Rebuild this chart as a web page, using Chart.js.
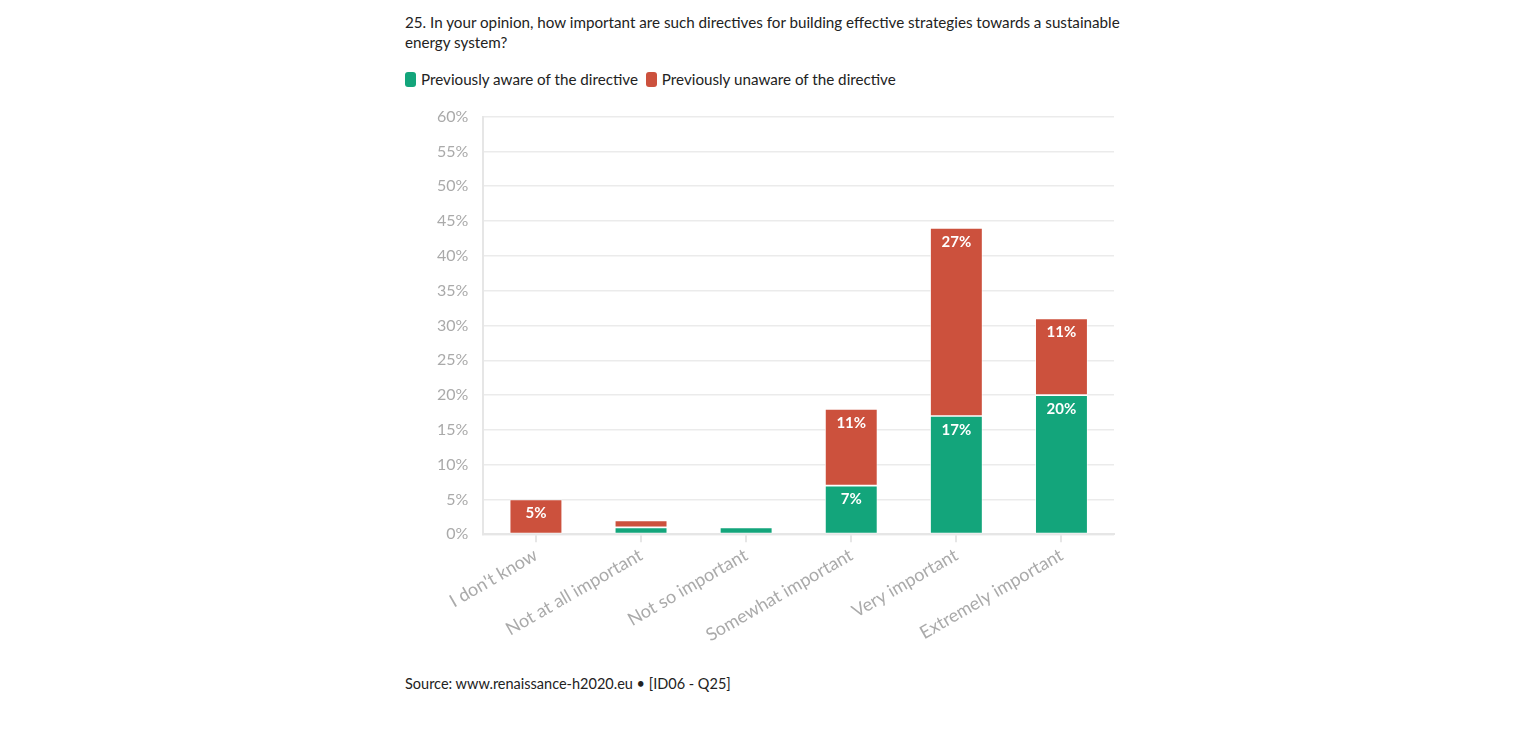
<!DOCTYPE html>
<html>
<head>
<meta charset="utf-8">
<script src="https://cdn.jsdelivr.net/npm/chart.js@4/dist/chart.umd.min.js"></script>
<style>
  body { margin: 0; background: #fff; font-family: Lato, "Open Sans", sans-serif; }
  #page { position: relative; width: 1536px; height: 735px; }
  .title { position: absolute; left: 405px; top: 12px; width: 725px; font-size: 15.2px; line-height: 20px; color: #222; }
  .legend { position: absolute; left: 405px; top: 70px; font-size: 15.2px; color: #222; }
  .legend span.item { margin-right: 4px; }
  .legend i { display: inline-block; width: 11px; height: 15px; border-radius: 3px; vertical-align: -2px; margin-right: 5px; }
  .chart-box { position: absolute; left: 405px; top: 92px; width: 720px; height: 556px; }
  .source { position: absolute; left: 405px; top: 675px; font-size: 14.5px; color: #222; }
</style>
</head>
<body>
<div id="page">
  <div class="title">25. In your opinion, how important are such directives for building effective strategies towards a sustainable energy system?</div>
  <div class="legend">
    <span class="item"><i style="background:#13a57b"></i>Previously aware of the directive</span>
    <span class="item"><i style="background:#cc513d"></i>Previously unaware of the directive</span>
  </div>
  <div class="chart-box"><canvas id="chart"></canvas></div>
  <div class="source">Source: www.renaissance-h2020.eu • [ID06 - Q25]</div>
</div>
<script>
const categories = ['I don\'t know', 'Not at all important', 'Not so important', 'Somewhat important', 'Very important', 'Extremely important'];
const awareValues = [0, 1, 1, 7, 17, 20];
const unawareValues = [5, 1, 0, 11, 27, 11];
const yTicks = [0, 5, 10, 15, 20, 25, 30, 35, 40, 45, 50, 55, 60];

// draw white labels inside the top of each segment (only for bigger ones)
const segmentLabels = {
    id: 'segmentLabels',
    afterDatasetsDraw(chart) {
        const ctx = chart.ctx;
        ctx.save();
        ctx.font = 'bold 15px Lato, "Open Sans", sans-serif';
        ctx.fillStyle = '#fff';
        ctx.textAlign = 'center';
        ctx.textBaseline = 'middle';
        chart.data.datasets.forEach((ds, i) => {
            chart.getDatasetMeta(i).data.forEach((bar, j) => {
                const v = ds.data[j];
                if (v < 5) return;
                ctx.fillText(v + '%', bar.x, bar.y + 14);
            });
        });
        ctx.restore();
    }
};

new Chart(document.getElementById('chart'), {
    type: 'bar',
    data: {
        labels: categories,
        datasets: [
            { label: 'Previously aware of the directive', data: awareValues, backgroundColor: '#13a57b', borderColor: '#fff', borderWidth: 0.8, borderSkipped: false },
            { label: 'Previously unaware of the directive', data: unawareValues, backgroundColor: '#cc513d', borderColor: '#fff', borderWidth: 0.8, borderSkipped: false }
        ]
    },
    options: {
        responsive: true,
        maintainAspectRatio: false,
        animation: false,
        layout: { padding: { top: 0, right: 11, left: 17, bottom: 0 } },
        datasets: { bar: { categoryPercentage: 1, barPercentage: 0.5 } },
        plugins: { legend: { display: false }, tooltip: { enabled: false } },
        scales: {
            x: {
                stacked: true,
                grid: { offset: false, drawOnChartArea: false, drawTicks: true, tickLength: 8, color: '#e6e6e6', lineWidth: 2 },
                border: { color: '#e6e6e6', width: 2 },
                ticks: { color: '#aaa', font: { size: 18, family: 'Lato, "Open Sans", sans-serif' }, maxRotation: 30, minRotation: 30, padding: 2 }
            },
            y: {
                stacked: true,
                min: 0,
                max: 60,
                afterBuildTicks: axis => { axis.ticks = yTicks.map(v => ({ value: v })); },
                grid: { color: '#ebebeb', lineWidth: 1.5, drawTicks: false },
                border: { color: '#e6e6e6', width: 2 },
                ticks: { color: '#aaa', padding: 15, font: { size: 16, family: 'Lato, "Open Sans", sans-serif' }, callback: v => v + '%' }
            }
        }
    },
    plugins: [segmentLabels]
});
</script>
</body>
</html>
